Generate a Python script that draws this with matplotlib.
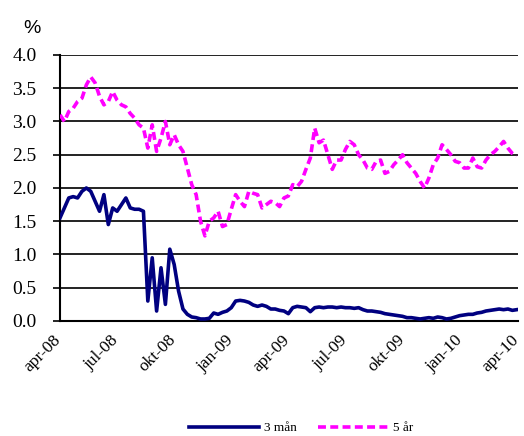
import matplotlib
matplotlib.use('Agg')
import matplotlib.pyplot as plt
import matplotlib.transforms as mtransforms
import pandas as pd

# weekly readings, apr-08 .. apr-10
dates = pd.date_range('2008-04-01', periods=105, freq='7D')

rate_5y = [
    3.10, 3.00, 3.15, 3.20, 3.30, 3.35, 3.55, 3.67, 3.58, 3.38,
    3.25, 3.30, 3.45, 3.32, 3.25, 3.22, 3.12, 3.05, 2.95, 2.90,
    2.60, 2.95, 2.55, 2.75, 3.00, 2.65, 2.80, 2.65, 2.55, 2.30,
    2.05, 1.90, 1.50, 1.28, 1.50, 1.55, 1.65, 1.42, 1.45, 1.68,
    1.90, 1.80, 1.72, 1.95, 1.92, 1.90, 1.70, 1.75, 1.80, 1.78,
    1.72, 1.85, 1.88, 2.05, 2.02, 2.10, 2.28, 2.45, 2.90, 2.68,
    2.72, 2.50, 2.28, 2.42, 2.42, 2.58, 2.70, 2.65, 2.50, 2.42,
    2.30, 2.28, 2.40, 2.42, 2.22, 2.25, 2.35, 2.42, 2.50, 2.38,
    2.30, 2.22, 2.10, 2.00, 2.15, 2.35, 2.45, 2.65, 2.58, 2.50,
    2.40, 2.38, 2.30, 2.30, 2.45, 2.32, 2.30, 2.42, 2.50, 2.55,
    2.62, 2.70, 2.60, 2.52, 2.48,
]

rate_3m = [
    1.55, 1.70, 1.85, 1.87, 1.85, 1.95, 2.00, 1.95, 1.80, 1.65,
    1.90, 1.45, 1.70, 1.65, 1.75, 1.85, 1.70, 1.68, 1.68, 1.65,
    0.30, 0.95, 0.15, 0.80, 0.25, 1.08, 0.85, 0.45, 0.18, 0.10,
    0.06, 0.05, 0.03, 0.03, 0.04, 0.12, 0.10, 0.13, 0.15, 0.20,
    0.30, 0.31, 0.30, 0.28, 0.24, 0.22, 0.24, 0.22, 0.18, 0.18,
    0.16, 0.15, 0.11, 0.20, 0.22, 0.21, 0.20, 0.14, 0.20, 0.21,
    0.20, 0.21, 0.21, 0.20, 0.21, 0.20, 0.20, 0.19, 0.20, 0.17,
    0.15, 0.15, 0.14, 0.13, 0.11, 0.10, 0.09, 0.08, 0.07, 0.05,
    0.05, 0.04, 0.03, 0.04, 0.05, 0.04, 0.06, 0.05, 0.03, 0.04,
    0.06, 0.08, 0.09, 0.10, 0.10, 0.12, 0.13, 0.15, 0.16, 0.17,
    0.18, 0.17, 0.18, 0.16, 0.17,
]

tick_dates = pd.date_range('2008-04-01', '2010-04-01', freq='3MS')
month_names = {1: 'jan', 4: 'apr', 7: 'jul', 10: 'okt'}
tick_labels = [f"{month_names[d.month]}-{d.strftime('%y')}" for d in tick_dates]
y_ticks = [0.0, 0.5, 1.0, 1.5, 2.0, 2.5, 3.0, 3.5, 4.0]

fig = plt.figure(figsize=(5.24, 4.36), dpi=100)
ax = fig.add_axes([0.1145, 0.2638, 0.874, 0.6101])

ax.plot(dates, rate_3m, color='#000080', lw=2.6, label='3 mån', zorder=3)
ax.plot(dates, rate_5y, color='#ff00ff', lw=2.6, ls=(0, (2.2, 1.2)),
        label='5 år', zorder=3)

ax.set_xlim(tick_dates[0], tick_dates[-1])
ax.set_ylim(0, 4.0)
ax.set_yticks(y_ticks)
ax.set_yticklabels([f"{v:.1f}" for v in y_ticks], family='Liberation Serif',
                   fontsize=14)
ax.set_xticks(tick_dates)
ax.set_xticklabels(tick_labels, family='Liberation Serif', fontsize=12.5,
                   rotation=45, ha='right', va='top', rotation_mode='anchor')
ax.tick_params(axis='y', length=5, width=1.2, pad=12, color='black')
ax.tick_params(axis='x', length=0, pad=8)

# nudge x labels a bit left so the last one stays inside
shift = mtransforms.ScaledTranslation(-7 / 100, 0, fig.dpi_scale_trans)
for lab in ax.get_xticklabels():
    lab.set_transform(lab.get_transform() + shift)

ax.grid(axis='y', color='#222222', lw=1.4)
ax.set_axisbelow(True)
for s in ['top', 'right']:
    ax.spines[s].set_visible(False)
ax.spines['left'].set_linewidth(1.5)
ax.spines['bottom'].set_linewidth(1.5)

fig.text(0.044, 0.925, '%', family='Liberation Sans', fontsize=14)

leg = fig.legend(loc='center', bbox_to_anchor=(0.575, 0.018), ncol=2,
                 frameon=False, prop={'family': 'Liberation Serif', 'size': 9.5},
                 handlelength=5.3, columnspacing=1.6, handletextpad=0.4)

fig.savefig('out.png', dpi=100)
